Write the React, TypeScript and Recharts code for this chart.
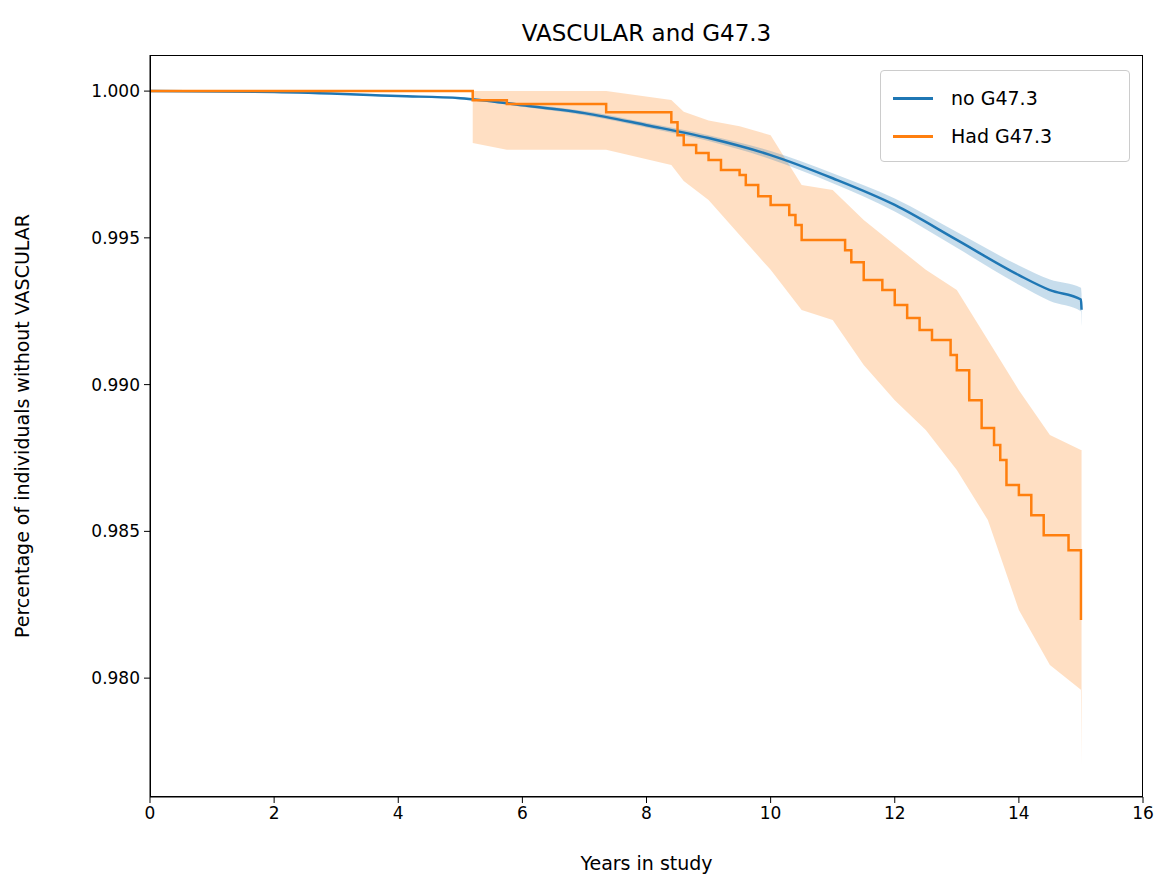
import { ComposedChart, Line, Area, XAxis, YAxis } from "recharts";

const BLUE = "#1f77b4";
const ORANGE = "#ff7f0e";

// no G47.3: survival estimate with confidence band
const blueX = [0, 2, 4, 5, 6, 7, 8, 9, 10, 11, 12, 13, 14, 14.5, 15, 15.01];
const blueS = [1.0, 0.99997, 0.99983, 0.99976, 0.99952, 0.99925, 0.99884, 0.9984, 0.99782, 0.99703, 0.99612, 0.99493, 0.99373, 0.99322, 0.9929, 0.99255];
const blueLo = [1.0, 0.99995, 0.9998, 0.99972, 0.99947, 0.99918, 0.99876, 0.9983, 0.99768, 0.99686, 0.9959, 0.99466, 0.9934, 0.99285, 0.9925, 0.9920];
const blueHi = [1.0, 0.99999, 0.99986, 0.9998, 0.99957, 0.99932, 0.99892, 0.9985, 0.99796, 0.9972, 0.99634, 0.9952, 0.99406, 0.99358, 0.9933, 0.9931];

// Had G47.3: step survival estimate
const orangeX = [0, 5.2, 5.75, 7.35, 8.4, 8.5, 8.6, 8.8, 9.0, 9.2, 9.5, 9.6, 9.8, 10.0, 10.3, 10.4, 10.5, 11.2, 11.3, 11.5, 11.8, 12.0, 12.2, 12.4, 12.6, 12.9, 13.0, 13.2, 13.4, 13.6, 13.7, 13.8, 14.0, 14.2, 14.4, 14.8, 15.0, 15.0];
const orangeS = [1.0, 0.99969, 0.99956, 0.99928, 0.99894, 0.9985, 0.99816, 0.99789, 0.99765, 0.99731, 0.99714, 0.9968, 0.99642, 0.99612, 0.99578, 0.99544, 0.99493, 0.99458, 0.99417, 0.99356, 0.99322, 0.99271, 0.99227, 0.99186, 0.99152, 0.99101, 0.99049, 0.98947, 0.98852, 0.98794, 0.98743, 0.98658, 0.98624, 0.98555, 0.98487, 0.98436, 0.98419, 0.98198];

// Had G47.3: confidence band
const bandX = [5.2, 5.2, 5.75, 7.35, 8.4, 8.6, 9.0, 9.5, 10.0, 10.5, 11.0, 11.5, 12.0, 12.5, 13.0, 13.5, 14.0, 14.5, 15.0, 15.01];
const bandLo = [1.0, 0.99823, 0.998, 0.998, 0.99748, 0.99694, 0.99629, 0.99510, 0.99391, 0.99254, 0.9922, 0.99067, 0.98947, 0.98845, 0.98709, 0.98539, 0.98232, 0.98045, 0.9796, 0.97704];
const bandHi = [1.0, 1.0, 1.0, 1.0, 0.9997, 0.9993, 0.9990, 0.9988, 0.9985, 0.9968, 0.99663, 0.99561, 0.99476, 0.99391, 0.99322, 0.99152, 0.98981, 0.98828, 0.98777, 0.98777];

const xTicks = [0, 2, 4, 6, 8, 10, 12, 14, 16];
const yTicks = [0.98, 0.985, 0.99, 0.995, 1.0];

const blueData = blueX.map((x, i) => ({ x, s: blueS[i], band: [blueLo[i], blueHi[i]] }));
const orangeData = orangeX.map((x, i) => ({ x, s: orangeS[i] }));
const bandData = bandX.map((x, i) => ({ x, band: [bandLo[i], bandHi[i]] }));

const font = "DejaVu Sans, sans-serif";

export default function App() {
  return (
    <div style={{ position: "relative", width: 1150, height: 876, fontFamily: font }}>
      <div style={{ position: "absolute", top: 12, left: 142, width: 993, textAlign: "center", fontSize: 23 }}>
        VASCULAR and G47.3
      </div>
      <ComposedChart width={1150} height={876} margin={{ top: 47, right: 15, bottom: 0, left: 0 }}>
        <XAxis
          dataKey="x"
          type="number"
          domain={[0, 16]}
          ticks={xTicks}
          height={87}
          allowDuplicatedCategory={false}
          stroke="#000"
          tick={{ fill: "#000", fontSize: 17, fontFamily: font }}
          tickSize={6}
          tickMargin={4}
          label={{ value: "Years in study", position: "insideBottom", offset: 14, fill: "#000", fontSize: 19, fontFamily: font }}
        />
        <YAxis
          type="number"
          domain={[0.97595, 1.00123]}
          ticks={yTicks}
          width={142}
          stroke="#000"
          tickFormatter={(v: number) => v.toFixed(3)}
          tick={{ fill: "#000", fontSize: 17, fontFamily: font }}
          tickSize={6}
          tickMargin={4}
          label={{ value: "Percentage of individuals without VASCULAR", angle: -90, position: "insideLeft", offset: 14, fill: "#000", fontSize: 19, fontFamily: font, style: { textAnchor: "middle" } }}
        />
        <Area data={bandData} dataKey="band" type="linear" stroke="none" fill={ORANGE} fillOpacity={0.25} isAnimationActive={false} />
        <Area data={blueData} dataKey="band" type="monotone" stroke="none" fill={BLUE} fillOpacity={0.25} isAnimationActive={false} />
        <Line data={blueData} dataKey="s" type="monotone" stroke={BLUE} strokeWidth={2.5} dot={false} isAnimationActive={false} />
        <Line data={orangeData} dataKey="s" type="stepAfter" stroke={ORANGE} strokeWidth={2.5} dot={false} isAnimationActive={false} />
      </ComposedChart>
      <div style={{ position: "absolute", left: 142, top: 47, width: 993, height: 742, border: "1px solid #000", boxSizing: "border-box", pointerEvents: "none" }} />
      <div style={{ position: "absolute", left: 872, top: 62, width: 250, height: 92, border: "1px solid #ccc", borderRadius: 4, background: "rgba(255,255,255,0.8)", boxSizing: "border-box", fontSize: 19 }}>
        <div style={{ display: "flex", alignItems: "center", height: 38, marginTop: 8 }}>
          <div style={{ width: 40, height: 3, background: BLUE, marginLeft: 12, marginRight: 18 }} />
          no G47.3
        </div>
        <div style={{ display: "flex", alignItems: "center", height: 38 }}>
          <div style={{ width: 40, height: 3, background: ORANGE, marginLeft: 12, marginRight: 18 }} />
          Had G47.3
        </div>
      </div>
    </div>
  );
}
